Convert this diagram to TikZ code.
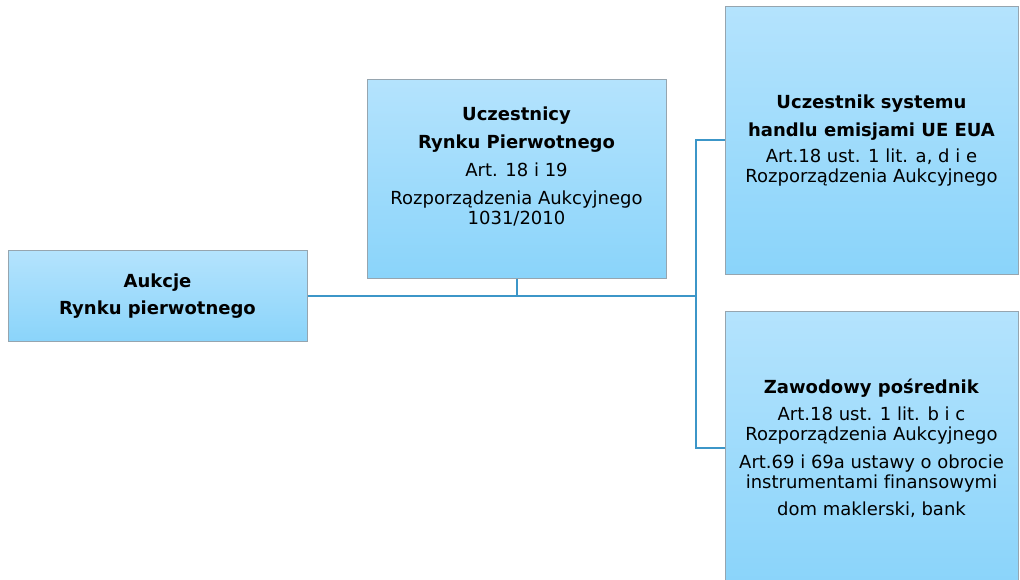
\documentclass[tikz,border=0pt]{standalone}
\usepackage{fontspec}
\setmainfont{DejaVu Sans}[Ligatures=NoCommon]
\usetikzlibrary{calc}
\definecolor{boxtop}{RGB}{180,227,253}
\definecolor{boxbot}{RGB}{138,212,250}
\definecolor{boxline}{RGB}{150,165,175}
\definecolor{linkblue}{RGB}{60,150,200}
\tikzset{
  box/.style={draw=boxline, line width=1pt, top color=boxtop, bottom color=boxbot, inner sep=0pt},
  txt/.style={align=center, font=\fontsize{18}{20}\selectfont},
  link/.style={draw=linkblue, line width=2pt},
}

\begin{document}
\begin{tikzpicture}[x=1pt, y=-1pt]
  \useasboundingbox (0,0) rectangle (1020,580);

  \node[box, minimum width=299pt, minimum height=91pt] (AUK) at (157.5,296) {};
  \node[box, minimum width=299pt, minimum height=198pt] (UCZ) at (516.5,179) {};
  \node[box, minimum width=293pt, minimum height=267pt] (EUA) at (871.5,140.5) {};
  \node[box, minimum width=293pt, minimum height=274pt] (POS) at (871.5,448) {};

  \node[txt] (AUKt) at (AUK.center) {\textbf{Aukcje}\\[7pt]\textbf{Rynku pierwotnego}};
  \node[txt] (UCZt) at ([yshift=13pt]UCZ.center) {\textbf{Uczestnicy}\\[8pt]\textbf{Rynku Pierwotnego}\\[8pt]Art. 18 i 19\\[8pt]Rozporządzenia Aukcyjnego\\1031/2010};
  \node[txt] (EUAt) at (EUA.center) {\textbf{Uczestnik systemu}\\[8pt]\textbf{handlu emisjami UE EUA}\\[6pt]Art.18 ust. 1 lit. a, d i e\\Rozporządzenia Aukcyjnego};
  \node[txt] (POSt) at (POS.center) {\textbf{Zawodowy pośrednik}\\[7pt]Art.18 ust. 1 lit. b i c\\Rozporządzenia Aukcyjnego\\[8pt]Art.69 i 69a ustawy o obrocie\\instrumentami finansowymi\\[7pt]dom maklerski, bank};

  \coordinate (HUB) at (695.5,296);

  \draw[link] (AUK.east) -- (HUB);
  \draw[link] (UCZ.south) -- (UCZ.south |- HUB);
  \draw[link] (HUB) |- (EUA.west);
  \draw[link] (HUB) |- (POS.west);
\end{tikzpicture}
\end{document}
